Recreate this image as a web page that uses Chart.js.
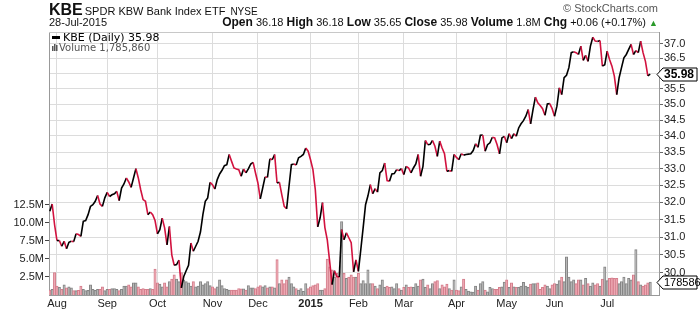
<!DOCTYPE html>
<html>
<head>
<meta charset="utf-8">
<script src="https://cdn.jsdelivr.net/npm/chart.js@4.4.1/dist/chart.umd.min.js"></script>
<style>
  html, body { margin: 0; padding: 0; background: #fff; }
  #wrap { position: relative; width: 700px; height: 312px; font-family: "Liberation Sans", Arial, sans-serif; color: #111; }
  #chart { position: absolute; left: 0; top: 0; }
  .hdr { position: absolute; white-space: nowrap; line-height: 1; }
  #sym { left: 49px; top: 2px; }
  #sym b { font-size: 16px; }
  #sym .nm { font-size: 11px; margin-left: 2px; }
  #sym .ex { font-size: 10px; margin-left: 5px; }
  #date { left: 49px; top: 17px; font-size: 11px; }
  #quote { right: 42px; top: 16px; font-size: 11px; }
  #quote b { font-size: 12px; }
  #quote .up { color: #2a9a2a; font-size: 9px; }
  #copy { right: 42px; top: 3px; font-size: 11px; color: #555; }
</style>
</head>
<body>
<div id="wrap">
  <canvas id="chart" width="700" height="312"></canvas>
  <div class="hdr" id="sym"><b>KBE</b><span class="nm">SPDR KBW Bank Index ETF</span><span class="ex">NYSE</span></div>
  <div class="hdr" id="date">28-Jul-2015</div>
  <div class="hdr" id="copy">© StockCharts.com</div>
  <div class="hdr" id="quote"><b>Open</b> 36.18 <b>High</b> 36.18 <b>Low</b> 35.65 <b>Close</b> 35.98 <b>Volume</b> 1.8M <b>Chg</b> +0.06 (+0.17%) <span class="up">▲</span></div>
</div>
<script>
// daily closes, 29-Jul-2014 .. 28-Jul-2015 (one per trading day)
const closes = [
  31.74, 31.95, 31.35, 30.90, 30.90, 30.74, 30.88, 30.67, 30.85, 30.88,
  30.87, 31.09, 31.07, 31.02, 31.45, 31.47, 31.64, 31.88, 31.93, 32.03,
  32.20, 31.95, 31.88, 32.13, 32.29, 32.17, 32.22, 32.25, 32.32, 32.05,
  32.42, 32.54, 32.72, 32.60, 32.44, 32.72, 33.00, 32.72, 32.37, 32.08,
  32.03, 31.64, 31.72, 31.64, 31.47, 31.09, 31.21, 31.54, 31.26, 30.78,
  31.30, 30.50, 30.21, 30.23, 30.35, 29.59, 29.90, 30.06, 30.21, 30.83,
  30.60, 30.74, 30.88, 31.15, 31.64, 32.03, 32.13, 32.59, 32.52, 32.39,
  32.67, 32.84, 32.95, 33.09, 33.12, 33.43, 33.22, 33.02, 32.99, 32.97,
  32.77, 32.99, 32.87, 32.99, 33.14, 33.19, 32.87, 32.57, 32.10, 32.42,
  32.75, 32.74, 33.30, 33.27, 33.43, 32.57, 32.59, 32.22, 31.88, 31.81,
  32.47, 33.12, 33.14, 33.11, 33.33, 33.37, 33.43, 33.63, 33.53,
  33.27, 32.97, 32.37, 31.29, 31.55, 31.99, 31.27, 30.92, 30.31, 29.68, 30.06,
  29.90, 29.89, 31.21, 30.92, 31.12, 30.98, 30.84, 30.03, 30.36, 30.04, 30.64, 31.27, 31.93, 32.19, 32.52,
  32.25, 32.40, 32.30, 32.87, 32.94, 33.17, 32.64, 32.62, 32.84, 32.85, 32.97, 32.94, 33.00, 32.82, 33.07,
  33.02, 32.87, 33.02, 33.14, 33.43, 32.77, 33.07, 33.86, 33.73, 33.74,
  33.86, 33.68, 33.37, 33.84, 33.63, 33.45, 32.92, 32.94, 32.92, 33.43,
  33.34, 33.27, 33.45, 33.41, 33.43, 33.44, 33.45, 33.55, 33.76, 33.65,
  34.02, 34.03, 33.53, 33.73, 33.79, 33.96, 33.94, 33.73, 33.45, 33.94,
  33.99, 33.79, 34.07, 33.92, 34.07, 33.99, 34.25, 34.38, 34.48, 34.62,
  34.83, 34.38, 34.83, 35.23, 35.05, 34.96, 34.86, 34.65, 35.01, 35.02,
  34.86, 34.62, 34.94, 35.53, 35.31, 35.86, 35.94, 36.19, 36.69, 36.72,
  36.69, 36.63, 36.91, 36.43, 36.60, 36.40, 36.91, 37.21, 37.08, 37.07,
  37.10, 36.24, 36.29, 36.74, 36.46, 36.24, 35.91, 35.31, 35.86, 36.19,
  36.52, 36.63, 36.80, 36.97, 36.63, 36.76, 36.69, 37.08, 36.69, 36.40, 35.92, 35.98
];

// daily volume, millions of shares
const volumes = [
  0.7, 0.8, 3.1, 1.25, 1.05, 0.8, 1.4, 1.0, 1.15, 1.0,
  0.6, 0.6, 0.65, 1.25, 0.8, 0.6, 0.65, 1.4, 0.8, 0.65,
  0.8, 0.8, 1.15, 0.6, 0.8, 0.8, 0.9, 0.9, 0.8, 0.6,
  0.8, 1.25, 1.25, 1.4, 1.15, 1.7, 1.7, 1.15, 0.8, 0.9,
  0.8, 0.8, 0.9, 0.8, 3.6, 1.7, 1.5, 1.15, 1.7, 1.15,
  1.85, 2.2, 2.8, 2.2, 1.85, 3.1, 2.1, 1.85, 1.7, 1.25,
  1.85, 1.15, 1.25, 1.85, 1.4, 1.6, 1.85, 1.3, 1.15, 0.9,
  1.15, 2.1, 1.3, 0.9, 0.8, 0.7, 0.7, 0.7, 0.7, 0.9,
  0.85, 0.85, 0.7, 1.3, 1.0, 1.0, 0.9, 1.15, 1.3, 1.15,
  1.3, 1.0, 1.15, 1.15, 1.0, 4.9, 1.6, 2.1, 1.6, 2.1,
  2.5, 1.6, 1.15, 0.9, 0.7, 0.9, 0.5, 1.6, 0.9, 1.15,
  1.3, 1.4, 1.6, 0.7, 0.7, 0.9, 5.0, 3.9, 3.5, 2.5,
  3.0, 2.5, 10.2, 3.0, 2.3, 2.5, 2.8, 2.5, 2.5, 3.0,
  1.6, 2.0, 1.6, 3.5, 1.6, 1.6, 1.25, 0.9, 1.4, 2.1,
  1.05, 1.25, 1.05, 1.15, 0.9, 1.6, 0.9, 0.7, 1.05, 1.4,
  1.05, 1.15, 1.05, 1.6, 1.25, 2.1, 2.2, 1.05, 1.4, 0.9,
  1.6, 1.85, 2.0, 0.9, 1.4, 1.15, 1.5, 0.9, 0.7, 2.1,
  0.7, 0.6, 1.15, 2.2, 0.8, 0.55, 0.45, 0.4, 1.25, 0.7,
  1.6, 1.85, 0.7, 0.45, 1.05, 0.9, 0.8, 0.8, 1.05, 1.15,
  1.8, 2.1, 1.05, 1.7, 1.15, 1.05, 1.05, 1.25, 1.75, 1.25,
  1.05, 1.5, 1.6, 1.6, 1.7, 0.8, 1.05, 1.4, 1.25, 0.9,
  1.4, 1.6, 1.5, 2.0, 2.5, 1.85, 5.3, 2.5, 1.85, 2.1,
  1.6, 2.1, 2.1, 1.4, 2.3, 1.6, 1.25, 1.7, 1.4, 1.6,
  1.25, 2.2, 3.9, 2.0, 2.3, 2.4, 2.3, 2.3, 1.6, 1.85,
  2.5, 1.6, 2.3, 2.1, 2.8, 6.3, 1.85, 1.4, 1.25, 1.4,
  1.7, 1.785860
];

// first trading day of each month (index into closes)
const monthStarts = [3, 24, 45, 68, 87, 109, 129, 148, 170, 191, 211, 233];
const monthLabels = ['Aug', 'Sep', 'Oct', 'Nov', 'Dec', '2015', 'Feb', 'Mar', 'Apr', 'May', 'Jun', 'Jul'];
const priceTicks = [30.0, 30.5, 31.0, 31.5, 32.0, 32.5, 33.0, 33.5, 34.0, 34.5, 35.0, 35.5, 36.0, 36.5, 37.0];
const volumeTicks = [2.5, 5.0, 7.5, 10.0, 12.5];

const RED = '#d2123f';
const FONT = '"Liberation Sans", Arial, sans-serif';

const isDown = closes.map((c, i) => i === 0 ? true : c < closes[i - 1]);

const priceData = closes.map((c, i) => ({ x: i, y: c }));
const volumeData = volumes.map((v, i) => ({ x: i, y: v }));

const overlay = {
  id: 'overlay',
  afterDraw(chart) {
    const ctx = chart.ctx;
    const a = chart.chartArea;
    ctx.save();
    // top border
    ctx.strokeStyle = '#c8c8c8';
    ctx.lineWidth = 1;
    ctx.beginPath();
    ctx.moveTo(a.left, a.top + 0.5);
    ctx.lineTo(a.right, a.top + 0.5);
    ctx.stroke();

    // legend inside the plot
    ctx.fillStyle = '#000';
    ctx.fillRect(52, 36, 8, 3);
    ctx.font = '11px "DejaVu Sans", sans-serif';
    ctx.textBaseline = 'alphabetic';
    ctx.fillText('KBE (Daily) ' + closes[closes.length - 1].toFixed(2), 63, 41);
    ctx.fillStyle = '#555';
    ctx.fillRect(52, 46, 1.5, 5);
    ctx.fillRect(54, 44, 1.5, 7);
    ctx.fillRect(56, 45, 1.5, 6);
    ctx.font = '10px "DejaVu Sans", sans-serif';
    ctx.fillText('Volume 1,785,860', 59, 51);

    // last value tags on the right
    const tag = (y, text, font) => {
      ctx.beginPath();
      ctx.moveTo(657, y);
      ctx.lineTo(663, y - 6.5);
      ctx.lineTo(697, y - 6.5);
      ctx.lineTo(697, y + 6.5);
      ctx.lineTo(663, y + 6.5);
      ctx.closePath();
      ctx.fillStyle = '#fff';
      ctx.fill();
      ctx.strokeStyle = '#000';
      ctx.lineWidth = 1;
      ctx.stroke();
      ctx.fillStyle = '#000';
      ctx.font = font;
      ctx.textBaseline = 'middle';
      ctx.fillText(text, 664, y + 0.5);
    };
    const py = chart.scales.price.getPixelForValue(closes[closes.length - 1]);
    tag(Math.round(py) + 0.5, closes[closes.length - 1].toFixed(2), 'bold 12px ' + FONT);
    const vy = chart.scales.vol.getPixelForValue(volumes[volumes.length - 1]);
    tag(Math.round(vy) + 0.5, '1785860', '11px ' + FONT);
    ctx.restore();
  }
};

new Chart(document.getElementById('chart'), {
  data: {
    datasets: [
      {
        type: 'line',
        data: priceData,
        yAxisID: 'price',
        borderWidth: 1.6,
        pointRadius: 0,
        tension: 0,
        order: 1,
        segment: {
          borderColor: c => c.p1.parsed.y < c.p0.parsed.y ? RED : '#000'
        }
      },
      {
        type: 'bar',
        data: volumeData,
        yAxisID: 'vol',
        backgroundColor: isDown.map(d => d ? '#f0aab4' : '#b8b8b8'),
        borderColor: isDown.map(d => d ? '#d47e8c' : '#858585'),
        borderWidth: 1,
        barPercentage: 1,
        categoryPercentage: 1,
        order: 2
      }
    ]
  },
  options: {
    responsive: false,
    animation: false,
    layout: { padding: { top: 32, left: 0, right: 0, bottom: 0 } },
    plugins: { legend: { display: false }, tooltip: { enabled: false } },
    scales: {
      x: {
        type: 'linear',
        offset: false,
        min: -0.33,
        max: 254.67,
        afterBuildTicks: s => { s.ticks = monthStarts.map(v => ({ value: v })); },
        afterFit: s => { s.height = 17; },
        ticks: {
          autoSkip: false,
          maxRotation: 0,
          padding: 2,
          color: '#222',
          font: c => ({ family: FONT, size: 11, weight: monthLabels[c.index] === '2015' ? 'bold' : 'normal' }),
          callback: (v, i) => monthLabels[i]
        },
        grid: { color: '#dcdcdc', tickLength: 0, offset: false },
        border: { color: '#999' }
      },
      price: {
        type: 'logarithmic',
        position: 'right',
        min: 29.41,
        max: 37.39,
        afterBuildTicks: s => { s.ticks = priceTicks.map(v => ({ value: v })); },
        afterFit: s => { s.width = 41; },
        ticks: {
          color: '#222',
          padding: 1,
          font: { family: FONT, size: 11 },
          callback: v => Number(v).toFixed(1)
        },
        grid: { color: '#dcdcdc', tickLength: 4, tickColor: '#666' },
        border: { color: '#999' }
      },
      vol: {
        type: 'linear',
        position: 'left',
        min: 0,
        max: 36.5,
        afterBuildTicks: s => { s.ticks = volumeTicks.map(v => ({ value: v })); },
        afterFit: s => { s.width = 49; },
        ticks: {
          color: '#222',
          padding: 1,
          font: { family: FONT, size: 11 },
          callback: v => Number(v).toFixed(1) + 'M'
        },
        grid: { drawOnChartArea: false, tickLength: 4, tickColor: '#444' },
        border: { color: '#999' }
      }
    }
  },
  plugins: [overlay]
});
</script>
</body>
</html>
